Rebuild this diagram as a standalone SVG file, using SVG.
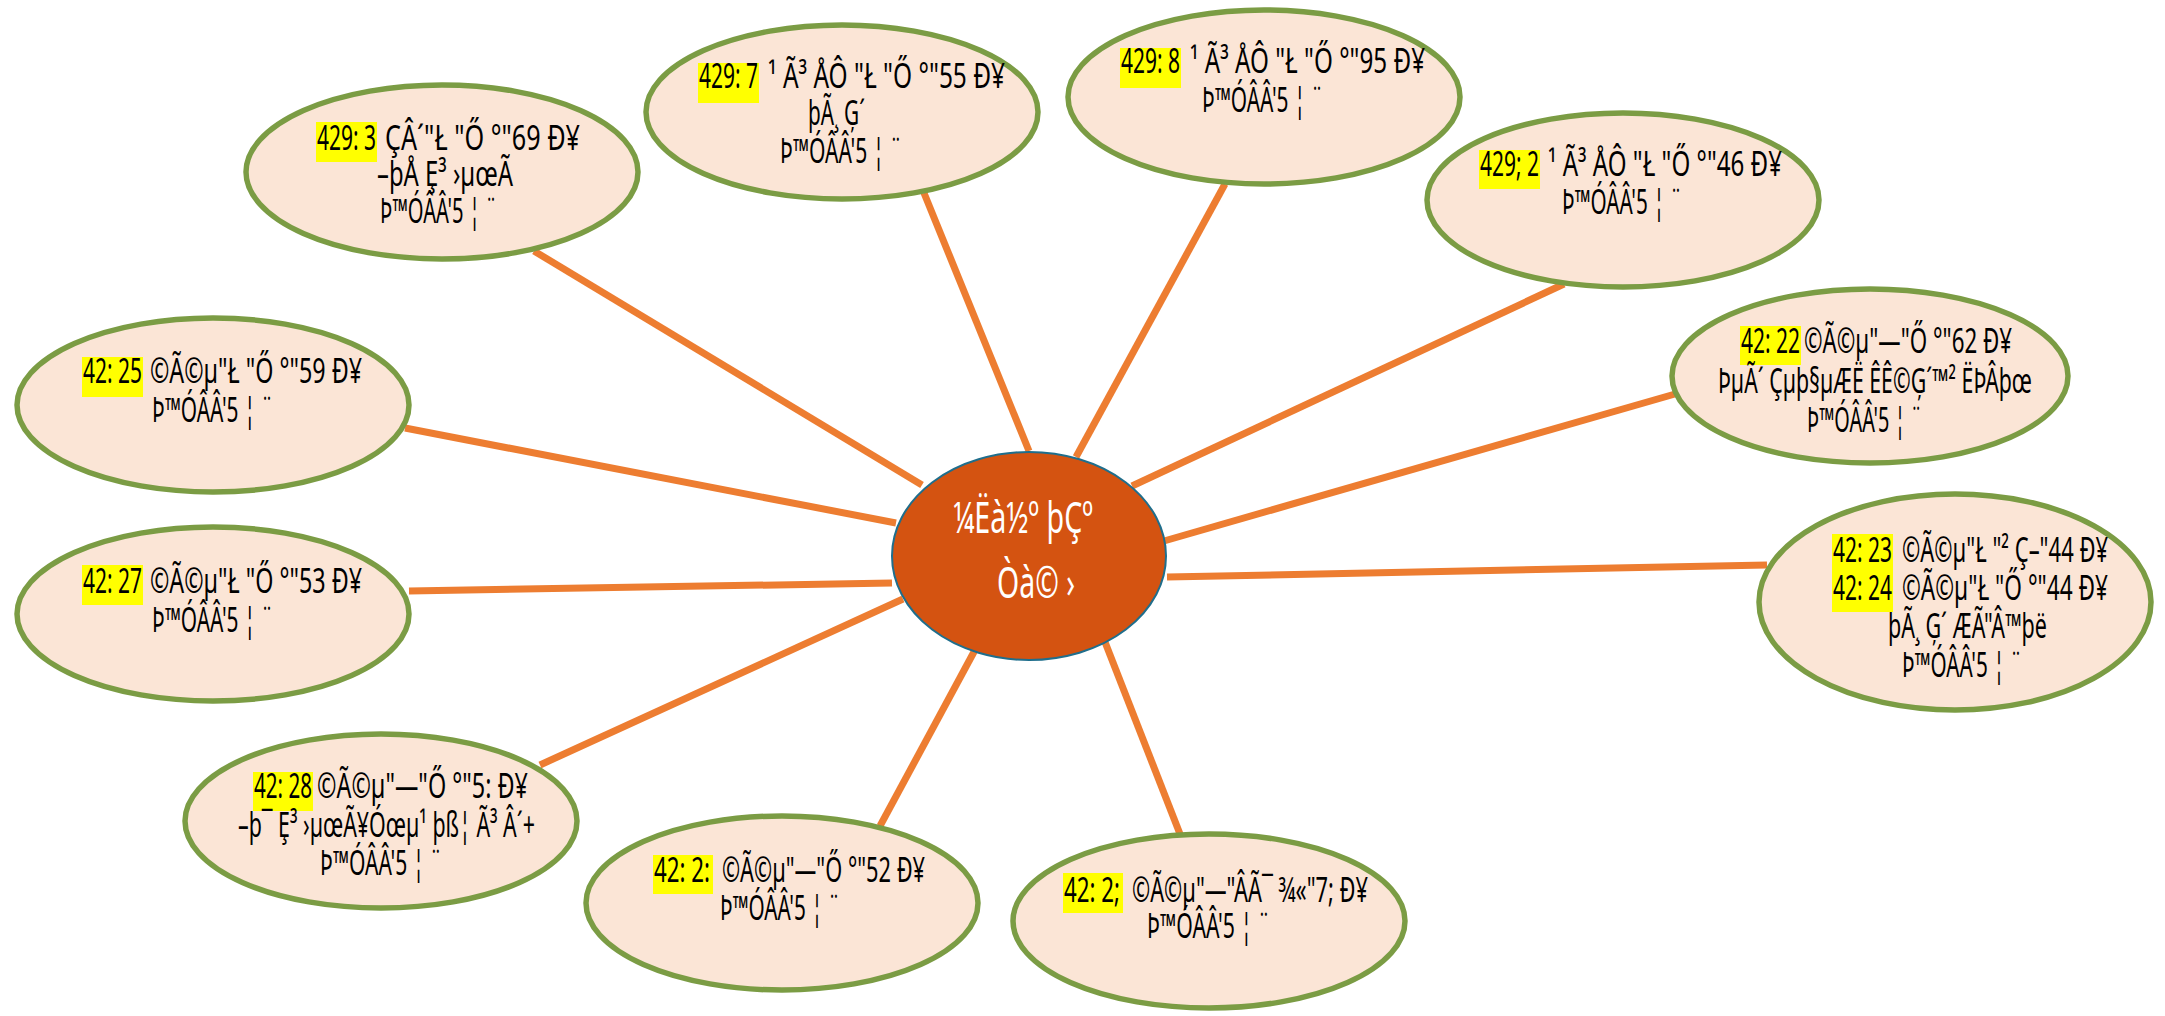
<svg xmlns="http://www.w3.org/2000/svg" width="2165" height="1016" viewBox="0 0 2165 1016">
<style>
.c{stroke:#ed7d31;stroke-width:7;fill:none}
.n{fill:#fbe5d6;stroke:#7b9c44;stroke-width:5.5}
.hl{fill:#ffff00}
.t{font-family:"Noto Sans","Open Sans","DejaVu Sans",sans-serif;font-size:34px;fill:#000}
.ct{font-family:"Noto Sans","Open Sans","DejaVu Sans",sans-serif;font-size:44px;fill:#fff}
</style>
<rect width="2165" height="1016" fill="#fff"/>
<g id="connectors">
<line class="c" x1="922" y1="485" x2="534" y2="251"/>
<line class="c" x1="1029" y1="451" x2="924" y2="193"/>
<line class="c" x1="1076" y1="457" x2="1225" y2="184"/>
<line class="c" x1="1132" y1="486" x2="1564" y2="284"/>
<line class="c" x1="1164" y1="541" x2="1675" y2="394"/>
<line class="c" x1="1167" y1="577" x2="1767" y2="565"/>
<line class="c" x1="896" y1="523" x2="405" y2="428"/>
<line class="c" x1="892" y1="583" x2="409" y2="591"/>
<line class="c" x1="903" y1="599" x2="540" y2="765"/>
<line class="c" x1="975" y1="650" x2="880" y2="826"/>
<line class="c" x1="1105" y1="642" x2="1180" y2="834"/>
</g>
<g id="center">
<ellipse cx="1029" cy="556" rx="137" ry="104" fill="#d45311" stroke="#1f6e8c" stroke-width="2"/>
<text class="ct" x="953" y="533" textLength="140" lengthAdjust="spacingAndGlyphs">¼Ëà½º þÇº</text>
<text class="ct" x="997" y="598" textLength="78" lengthAdjust="spacingAndGlyphs">Òà© ›</text>
</g>
<g id="n4293">
<ellipse class="n" cx="442" cy="172" rx="196" ry="87"/>
<rect class="hl" x="316" y="122" width="61" height="40"/>
<text class="t" x="317" y="150" textLength="59" lengthAdjust="spacingAndGlyphs">429: 3</text>
<text class="t" x="385" y="150" textLength="195" lengthAdjust="spacingAndGlyphs">ÇÂ´"Ł "Ő °"69 Ð¥</text>
<text class="t" x="377" y="186" textLength="136" lengthAdjust="spacingAndGlyphs">–þÅ Ȩ³ ›µœÃ</text>
<text class="t" x="380" y="223" textLength="117" lengthAdjust="spacingAndGlyphs">Þ™ÓÂÂ'5 ¦ ¨</text>
</g>
<g id="n4297">
<ellipse class="n" cx="842" cy="112" rx="196" ry="87"/>
<rect class="hl" x="698" y="63" width="61" height="40"/>
<text class="t" x="699" y="88" textLength="59" lengthAdjust="spacingAndGlyphs">429: 7</text>
<text class="t" x="768" y="88" textLength="237" lengthAdjust="spacingAndGlyphs">¹ Ã³ ÅÔ "Ł "Ő °"55 Ð¥</text>
<text class="t" x="808" y="125" textLength="57" lengthAdjust="spacingAndGlyphs">þÃ¸ Ģ´</text>
<text class="t" x="780" y="163" textLength="122" lengthAdjust="spacingAndGlyphs">Þ™ÓÂÂ'5 ¦ ¨</text>
</g>
<g id="n4298">
<ellipse class="n" cx="1264" cy="97" rx="196" ry="87"/>
<rect class="hl" x="1120" y="48" width="61" height="40"/>
<text class="t" x="1121" y="73" textLength="59" lengthAdjust="spacingAndGlyphs">429: 8</text>
<text class="t" x="1190" y="73" textLength="235" lengthAdjust="spacingAndGlyphs">¹ Ã³ ÅÔ "Ł "Ő °"95 Ð¥</text>
<text class="t" x="1202" y="112" textLength="121" lengthAdjust="spacingAndGlyphs">Þ™ÓÂÂ'5 ¦ ¨</text>
</g>
<g id="n4292b">
<ellipse class="n" cx="1623" cy="200" rx="196" ry="87"/>
<rect class="hl" x="1479" y="150" width="61" height="39"/>
<text class="t" x="1480" y="176" textLength="59" lengthAdjust="spacingAndGlyphs">429; 2</text>
<text class="t" x="1548" y="176" textLength="234" lengthAdjust="spacingAndGlyphs">¹ Ã³ ÅÔ "Ł "Ő °"46 Ð¥</text>
<text class="t" x="1562" y="214" textLength="120" lengthAdjust="spacingAndGlyphs">Þ™ÓÂÂ'5 ¦ ¨</text>
</g>
<g id="n4222">
<ellipse class="n" cx="1870" cy="376" rx="198" ry="87"/>
<rect class="hl" x="1740" y="326" width="61" height="39"/>
<text class="t" x="1741" y="353" textLength="59" lengthAdjust="spacingAndGlyphs">42: 22</text>
<text class="t" x="1804" y="353" textLength="208" lengthAdjust="spacingAndGlyphs">©Ã©µ"—"Ő °"62 Ð¥</text>
<text class="t" x="1718" y="393" textLength="314" lengthAdjust="spacingAndGlyphs">ÞµÃ´ Çµþ§µÆË ÊÊ©Ģ´™² ËÞÂþœ</text>
<text class="t" x="1807" y="432" textLength="115" lengthAdjust="spacingAndGlyphs">Þ™ÓÂÂ'5 ¦ ¨</text>
</g>
<g id="n4223">
<ellipse class="n" cx="1955" cy="602" rx="196" ry="108"/>
<rect class="hl" x="1832" y="534" width="61" height="78"/>
<text class="t" x="1833" y="562" textLength="59" lengthAdjust="spacingAndGlyphs">42: 23</text>
<text class="t" x="1902" y="562" textLength="206" lengthAdjust="spacingAndGlyphs">©Ã©µ"Ł "² Ç–"44 Ð¥</text>
<text class="t" x="1833" y="600" textLength="59" lengthAdjust="spacingAndGlyphs">42: 24</text>
<text class="t" x="1902" y="600" textLength="206" lengthAdjust="spacingAndGlyphs">©Ã©µ"Ł "Ő °"44 Ð¥</text>
<text class="t" x="1888" y="638" textLength="159" lengthAdjust="spacingAndGlyphs">þÃ¸ Ģ´ ÆÃ"Â™þë</text>
<text class="t" x="1902" y="677" textLength="120" lengthAdjust="spacingAndGlyphs">Þ™ÓÂÂ'5 ¦ ¨</text>
</g>
<g id="n4225">
<ellipse class="n" cx="213" cy="405" rx="196" ry="87"/>
<rect class="hl" x="82" y="357" width="61" height="40"/>
<text class="t" x="83" y="383" textLength="59" lengthAdjust="spacingAndGlyphs">42: 25</text>
<text class="t" x="150" y="383" textLength="212" lengthAdjust="spacingAndGlyphs">©Ã©µ"Ł "Ő °"59 Ð¥</text>
<text class="t" x="152" y="422" textLength="121" lengthAdjust="spacingAndGlyphs">Þ™ÓÂÂ'5 ¦ ¨</text>
</g>
<g id="n4227">
<ellipse class="n" cx="213" cy="614" rx="196" ry="87"/>
<rect class="hl" x="82" y="565" width="61" height="40"/>
<text class="t" x="83" y="593" textLength="59" lengthAdjust="spacingAndGlyphs">42: 27</text>
<text class="t" x="150" y="593" textLength="212" lengthAdjust="spacingAndGlyphs">©Ã©µ"Ł "Ő °"53 Ð¥</text>
<text class="t" x="152" y="632" textLength="121" lengthAdjust="spacingAndGlyphs">Þ™ÓÂÂ'5 ¦ ¨</text>
</g>
<g id="n4228">
<ellipse class="n" cx="381" cy="821" rx="196" ry="87"/>
<rect class="hl" x="253" y="772" width="60" height="39"/>
<text class="t" x="254" y="798" textLength="58" lengthAdjust="spacingAndGlyphs">42: 28</text>
<text class="t" x="317" y="798" textLength="211" lengthAdjust="spacingAndGlyphs">©Ã©µ"—"Ő °"5: Ð¥</text>
<text class="t" x="238" y="837" textLength="297" lengthAdjust="spacingAndGlyphs">–þ¯ Ȩ³ ›µœÃ¥Óœµ¹ þß¦ Ã³ Â´+</text>
<text class="t" x="320" y="875" textLength="122" lengthAdjust="spacingAndGlyphs">Þ™ÓÂÂ'5 ¦ ¨</text>
</g>
<g id="n422a">
<ellipse class="n" cx="782" cy="903" rx="196" ry="87"/>
<rect class="hl" x="653" y="855" width="60" height="39"/>
<text class="t" x="654" y="882" textLength="56" lengthAdjust="spacingAndGlyphs">42: 2:</text>
<text class="t" x="722" y="882" textLength="203" lengthAdjust="spacingAndGlyphs">©Ã©µ"—"Ő °"52 Ð¥</text>
<text class="t" x="720" y="920" textLength="120" lengthAdjust="spacingAndGlyphs">Þ™ÓÂÂ'5 ¦ ¨</text>
</g>
<g id="n422b">
<ellipse class="n" cx="1209" cy="921" rx="196" ry="87"/>
<rect class="hl" x="1063" y="873" width="60" height="40"/>
<text class="t" x="1064" y="902" textLength="56" lengthAdjust="spacingAndGlyphs">42: 2;</text>
<text class="t" x="1132" y="902" textLength="236" lengthAdjust="spacingAndGlyphs">©Ã©µ"—"ÂÃ¯ ¾«"7; Ð¥</text>
<text class="t" x="1147" y="938" textLength="123" lengthAdjust="spacingAndGlyphs">Þ™ÓÂÂ'5 ¦ ¨</text>
</g>
</svg>
